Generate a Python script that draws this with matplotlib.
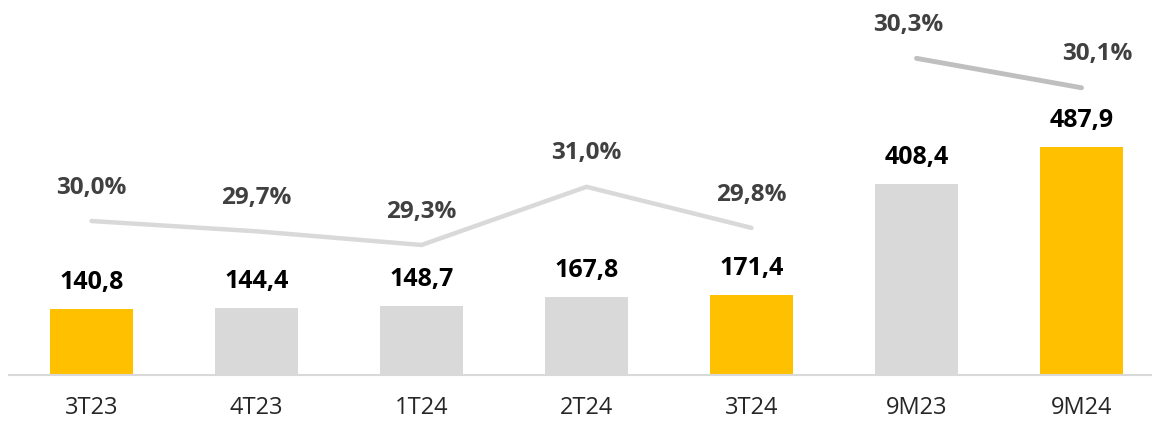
import numpy as np
import matplotlib
matplotlib.use("Agg")
from matplotlib import pyplot as plt

plt.rcParams['font.family'] = ['Open Sans', 'DejaVu Sans']

# data
categories = ['3T23', '4T23', '1T24', '2T24', '3T24', '9M23', '9M24']
values = [140.8, 144.4, 148.7, 167.8, 171.4, 408.4, 487.9]
value_labels = ['140,8', '144,4', '148,7', '167,8', '171,4', '408,4', '487,9']
highlight = [True, False, False, False, True, False, True]

q_margin = [30.0, 29.7, 29.3, 31.0, 29.8]
q_margin_labels = ['30,0%', '29,7%', '29,3%', '31,0%', '29,8%']
m_margin = [30.3, 30.1]
m_margin_labels = ['30,3%', '30,1%']

YELLOW = '#FFC000'
GRAY = '#D9D9D9'

fig = plt.figure(figsize=(11.52, 4.21), dpi=100)
ax = fig.add_axes([9 / 1152, 1 - 375 / 421, 1 - 9 / 1152, 375 / 421])

x = np.arange(len(categories))
colors = [YELLOW if h else GRAY for h in highlight]
ax.bar(x, values, width=0.5, color=colors, zorder=2)
ax.set_xlim(-0.5, 6.427)
ax.set_ylim(0, 803)

for xi, v, lab in zip(x, values, value_labels):
    ax.annotate(lab, (xi, v), xytext=(0, 19), textcoords='offset points',
                ha='center', va='center', fontsize=18, fontweight='bold',
                color='black')

for s in ['top', 'right', 'left']:
    ax.spines[s].set_visible(False)
ax.spines['bottom'].set_color(GRAY)
ax.spines['bottom'].set_linewidth(1.5)
ax.set_yticks([])
ax.set_xticks(x)
ax.set_xticklabels(categories, fontsize=17, color='#262626')
ax.tick_params(axis='x', length=0, pad=15)

# quarterly margin line
ax2 = ax.twinx()
ax2.set_ylim(25.5, 36.46)
ax2.plot(x[:5], q_margin, color=GRAY, lw=3.2, solid_capstyle='round',
         solid_joinstyle='miter', zorder=3)
for xi, v, lab in zip(x[:5], q_margin, q_margin_labels):
    ax2.annotate(lab, (xi, v), xytext=(0, 24), textcoords='offset points',
                 ha='center', va='center', fontsize=17.5, fontweight='bold',
                 color='#404040')

# 9M margin line
ax3 = ax.twinx()
ax3.set_ylim(28.146, 30.697)
ax3.plot(x[5:], m_margin, color='#BFBFBF', lw=3.5, solid_capstyle='round', zorder=3)
for xi, v, lab, dx in zip(x[5:], m_margin, m_margin_labels, [-6, 11]):
    ax3.annotate(lab, (xi, v), xytext=(dx, 24), textcoords='offset points',
                 ha='center', va='center', fontsize=17.5, fontweight='bold',
                 color='#404040')

for a in (ax2, ax3):
    a.set_yticks([])
    for s in a.spines.values():
        s.set_visible(False)

fig.savefig('out.png', dpi=100)
